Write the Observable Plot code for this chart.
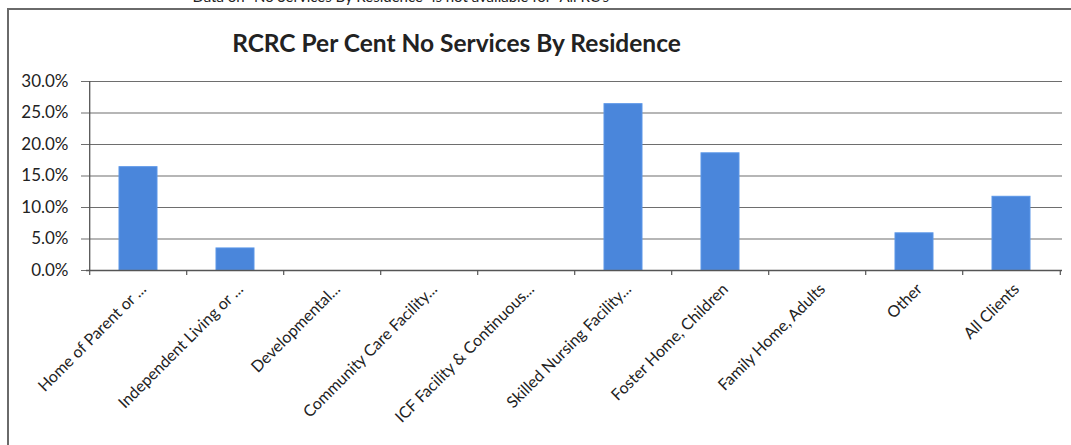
<!DOCTYPE html>
<html>
<head>
<meta charset="utf-8">
<script src="https://cdn.jsdelivr.net/npm/d3@7"></script>
<script src="https://cdn.jsdelivr.net/npm/@observablehq/plot@0.6"></script>
<style>
  html, body { margin: 0; padding: 0; background: #fff; }
  #wrap { position: relative; width: 1071px; height: 445px; overflow: hidden; }
  #box { position: absolute; left: 7px; top: 8px; right: -10px; bottom: -10px;
         border-left: 2px solid #6a6a6a; border-top: 2px solid #6a6a6a; pointer-events: none; }
  #wrap svg { position: absolute; left: 0; top: 0; }
</style>
</head>
<body>
<div id="wrap"><div id="box"></div></div>
<script>
const categories = [
  "Home of Parent or ...",
  "Independent Living or ...",
  "Developmental...",
  "Community Care Facility...",
  "ICF Facility & Continuous...",
  "Skilled Nursing Facility...",
  "Foster Home, Children",
  "Family Home, Adults",
  "Other",
  "All Clients"
];
const values = [16.4, 3.5, 0, 0, 0, 26.4, 18.6, 0, 5.9, 11.7];
const yTicks = [0, 5, 10, 15, 20, 25, 30];
const titleText = "RCRC Per Cent No Services By Residence";
const noteText = "Data on \u201CNo Services By Residence\u201D is not available for \u201CAll RC\u2019s\u201D";

const data = categories.map((c, i) => ({category: c, value: values[i]}));

const W = 1071, H = 445;
const mL = 86, mR = 9, mT = 81, mB = 175;
const step = (W - mL - mR) / categories.length;
const plotH = H - mT - mB;
const font = "Lato, 'Open Sans', sans-serif";

const chart = Plot.plot({
  width: W,
  height: H,
  marginLeft: mL,
  marginRight: mR,
  marginTop: mT,
  marginBottom: mB,
  style: {fontFamily: font, background: "transparent", color: "#222", overflow: "visible"},
  x: {domain: categories, paddingInner: 0.61, paddingOuter: 0.305, axis: null},
  y: {domain: [0, 30], axis: null},
  marks: [
    Plot.ruleY(yTicks, {y: d => d, stroke: "#6e6e6e", strokeWidth: 1.2, insetLeft: -5}),
    Plot.barY(data, {x: "category", y: "value", fill: "#4a86db", stroke: "#5a96e8", strokeWidth: 1}),
    Plot.ruleX([categories[0]], {x: d => d, dx: -step / 2, y1: 0, y2: 30, stroke: "#555", strokeWidth: 1.3}),
    Plot.ruleY([0], {stroke: "#555", strokeWidth: 1.3}),
    Plot.ruleX(categories, {x: d => d, dx: -step / 2, insetTop: plotH, insetBottom: -5, stroke: "#555", strokeWidth: 1.2}),
    Plot.ruleX([categories[categories.length - 1]], {x: d => d, dx: step / 2, insetTop: plotH, insetBottom: -5, stroke: "#555", strokeWidth: 1.2}),
    Plot.text(yTicks, {y: d => d, text: d => d.toFixed(1) + "%", frameAnchor: "left", textAnchor: "end", dx: -18, fontSize: 17, fill: "#222"}),
    Plot.text(categories, {x: d => d, text: d => d, frameAnchor: "bottom", rotate: -45, textAnchor: "end", lineAnchor: "middle", dx: 5, dy: 16, fontSize: 16, fill: "#222"}),
    Plot.text([titleText], {frameAnchor: "top-left", dx: 456 - mL, dy: -37, textAnchor: "middle", lineAnchor: "middle", fontSize: 24.5, fontWeight: "bold", fill: "#222"}),
    Plot.text([noteText], {frameAnchor: "top-left", dx: 403 - mL, dy: -mT - 3, textAnchor: "middle", lineAnchor: "middle", fontSize: 15, fill: "#222"})
  ]
});

document.getElementById("wrap").prepend(chart);
</script>
</body>
</html>
